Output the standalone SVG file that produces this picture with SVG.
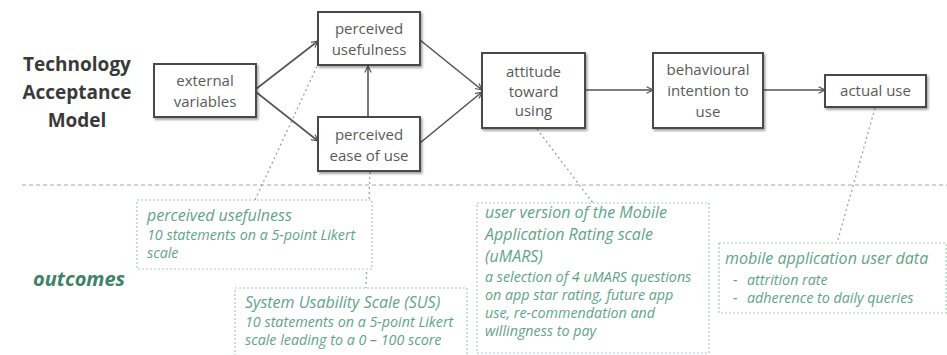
<svg xmlns="http://www.w3.org/2000/svg" width="947" height="355" viewBox="0 0 947 355">
  <style>
    .box { fill: #ffffff; stroke: #4a4a4a; stroke-width: 2; filter: url(#shadow); }
    .lbl { font-family: "Open Sans", "Liberation Sans", sans-serif; font-size: 15px; fill: #5a5a5a; text-anchor: middle; }
    .title { font-family: "Open Sans", "Liberation Sans", sans-serif; font-size: 19px; font-weight: bold; fill: #3a3a3a; text-anchor: middle; }
    .outc { font-family: "Open Sans", "Liberation Sans", sans-serif; font-size: 20px; font-weight: bold; font-style: italic; fill: #3f8268; }
    .gbox { fill: #ffffff; stroke: #a9cbbd; stroke-width: 1.2; stroke-dasharray: 2 2; }
    .gh { font-family: "Open Sans", "Liberation Sans", sans-serif; font-size: 16px; font-style: italic; fill: #5fa48a; }
    .gt { font-family: "Open Sans", "Liberation Sans", sans-serif; font-size: 14.3px; font-style: italic; fill: #5fa48a; }
    .arrow { stroke: #555555; stroke-width: 1.6; fill: none; marker-end: url(#head); }
    .link { stroke: #9aa5a0; stroke-width: 1.3; fill: none; stroke-dasharray: 2 3; }
  </style>
  <defs>
    <marker id="head" viewBox="0 0 10 10" refX="9" refY="5" markerWidth="8" markerHeight="8" orient="auto" markerUnits="userSpaceOnUse">
      <path d="M1,1 L9,5 L1,9" fill="none" stroke="#555555" stroke-width="1.5"/>
    </marker>
    <filter id="shadow" x="-10%" y="-10%" width="130%" height="130%">
      <feDropShadow dx="1.5" dy="2" stdDeviation="1.2" flood-color="#000000" flood-opacity="0.35"/>
    </filter>
  </defs>

  <!-- model title -->
  <g id="title">
    <text class="title" x="77" y="71">Technology</text>
    <text class="title" x="77" y="99">Acceptance</text>
    <text class="title" x="77" y="127">Model</text>
  </g>

  <!-- separator between model and outcomes -->
  <line x1="22" y1="185" x2="947" y2="185" stroke="#c4c4c4" stroke-width="1.3" stroke-dasharray="4 3"/>

  <text id="outcomes" class="outc" x="33" y="286">outcomes</text>

  <!-- dotted links from model steps to outcome measures -->
  <g id="links">
    <line class="link" x1="319" y1="62" x2="255" y2="200"/>
    <line class="link" x1="370" y1="172" x2="366" y2="288"/>
    <line class="link" x1="537" y1="129" x2="593" y2="203"/>
    <line class="link" x1="875" y1="108" x2="837" y2="243"/>
  </g>

  <!-- model connectors -->
  <g id="connectors">
    <line class="arrow" x1="256" y1="89" x2="318" y2="41"/>
    <line class="arrow" x1="256" y1="92" x2="318" y2="141"/>
    <line class="arrow" x1="368" y1="117" x2="368" y2="66"/>
    <line class="arrow" x1="420" y1="40" x2="482" y2="90"/>
    <line class="arrow" x1="420" y1="143" x2="482" y2="92"/>
    <line class="arrow" x1="585" y1="90" x2="653" y2="90"/>
    <line class="arrow" x1="763" y1="90" x2="825" y2="90"/>
  </g>

  <g id="external-variables">
    <rect class="box" x="154" y="64" width="102" height="53"/>
    <text class="lbl" x="205" y="86">external</text>
    <text class="lbl" x="205" y="107">variables</text>
  </g>

  <g id="perceived-usefulness">
    <rect class="box" x="318" y="12" width="102" height="53"/>
    <text class="lbl" x="369" y="34">perceived</text>
    <text class="lbl" x="369" y="55">usefulness</text>
  </g>

  <g id="perceived-ease-of-use">
    <rect class="box" x="318" y="117" width="102" height="54"/>
    <text class="lbl" x="369" y="140">perceived</text>
    <text class="lbl" x="369" y="161">ease of use</text>
  </g>

  <g id="attitude-toward-using">
    <rect class="box" x="482" y="53" width="103" height="75"/>
    <text class="lbl" x="533.5" y="77">attitude</text>
    <text class="lbl" x="533.5" y="97">toward</text>
    <text class="lbl" x="533.5" y="116">using</text>
  </g>

  <g id="behavioural-intention">
    <rect class="box" x="653" y="53" width="110" height="75"/>
    <text class="lbl" x="708" y="75">behavioural</text>
    <text class="lbl" x="708" y="96">intention to</text>
    <text class="lbl" x="708" y="117">use</text>
  </g>

  <g id="actual-use">
    <rect class="box" x="825" y="75" width="101" height="32"/>
    <text class="lbl" x="875.5" y="96">actual use</text>
  </g>

  <!-- outcome measures -->
  <g id="pu-measure">
    <rect class="gbox" x="137" y="200" width="235" height="69"/>
    <text class="gh" x="147" y="221">perceived usefulness</text>
    <text class="gt" x="147" y="240">10 statements on a 5-point Likert</text>
    <text class="gt" x="147" y="258">scale</text>
  </g>

  <g id="sus-measure">
    <rect class="gbox" x="235" y="288" width="232" height="70"/>
    <text class="gh" x="245" y="308">System Usability Scale (SUS)</text>
    <text class="gt" x="245" y="327">10 statements on a 5-point Likert</text>
    <text class="gt" x="245" y="345">scale leading to a 0 – 100 score</text>
  </g>

  <g id="umars-measure">
    <rect class="gbox" x="477" y="203" width="232" height="150"/>
    <text class="gh" x="485" y="218">user version of the Mobile</text>
    <text class="gh" x="485" y="240">Application Rating scale</text>
    <text class="gh" x="485" y="262">(uMARS)</text>
    <text class="gt" x="485" y="282">a selection of 4 uMARS questions</text>
    <text class="gt" x="485" y="300">on app star rating, future app</text>
    <text class="gt" x="485" y="318">use, re-commendation and</text>
    <text class="gt" x="485" y="336">willingness to pay</text>
  </g>

  <g id="user-data-measure">
    <rect class="gbox" x="719" y="243" width="227" height="70"/>
    <text class="gh" x="725" y="264">mobile application user data</text>
    <text class="gt" x="733" y="285">-</text>
    <text class="gt" x="747" y="285">attrition rate</text>
    <text class="gt" x="733" y="303">-</text>
    <text class="gt" x="747" y="303">adherence to daily queries</text>
  </g>
</svg>
